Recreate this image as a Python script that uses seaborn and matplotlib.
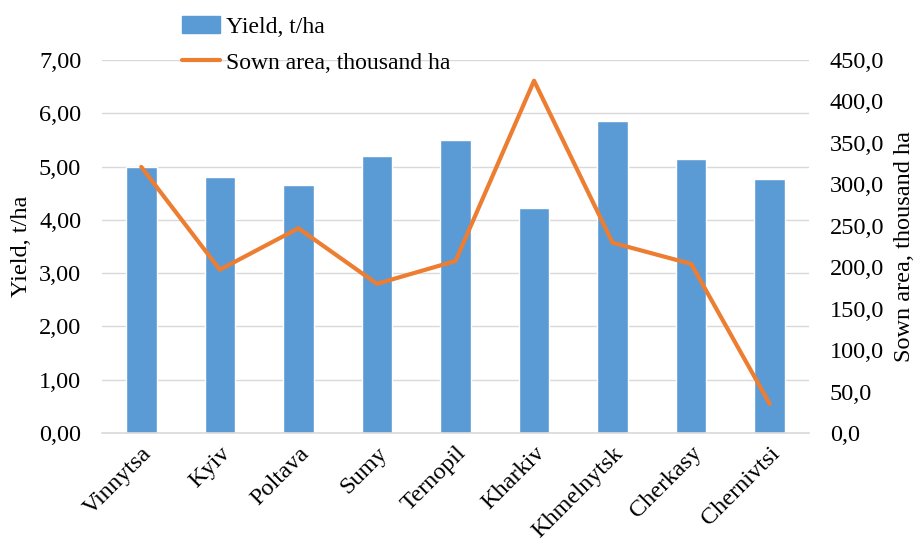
import numpy as np
import pandas as pd
import matplotlib
matplotlib.use("Agg")
import matplotlib.pyplot as plt
import seaborn as sns
from matplotlib.patches import Patch
from matplotlib.lines import Line2D
from matplotlib.ticker import FuncFormatter, MultipleLocator

regions = ["Vinnytsa", "Kyiv", "Poltava", "Sumy", "Ternopil", "Kharkiv",
           "Khmelnytsk", "Cherkasy", "Chernivtsi"]
yield_t_ha = [5.00, 4.81, 4.66, 5.20, 5.50, 4.23, 5.85, 5.15, 4.76]
sown_area = [321.0, 197.0, 247.0, 180.0, 207.5, 425.0, 229.5, 204.0, 35.0]

BAR = "#5b9bd5"
LINE = "#ed7d31"
GRID = "#d9d9d9"
FS = 17.5

sns.set_theme(style="white")
plt.rcParams["font.family"] = ["Liberation Serif", "DejaVu Serif"]
plt.rcParams["text.color"] = "black"
plt.rcParams["axes.labelcolor"] = "black"

fig = plt.figure(figsize=(9.14, 5.43), dpi=100)
ax = fig.add_axes([102/914, 1-433/543, (809-102)/914, (433-60)/543])

df = pd.DataFrame({"region": regions, "yield": yield_t_ha, "area": sown_area})
sns.barplot(data=df, x="region", y="yield", color=BAR, width=0.39,
            saturation=1, ax=ax, zorder=2)

ax.set_ylim(0, 7)
ax.yaxis.set_major_locator(MultipleLocator(1))
ax.yaxis.set_major_formatter(FuncFormatter(lambda v, p: f"{v:.2f}".replace(".", ",")))
ax.grid(axis="y", color=GRID, linewidth=1, zorder=0)
ax.set_axisbelow(True)
for s in ["top", "right", "left"]:
    ax.spines[s].set_visible(False)
ax.spines["bottom"].set_color(GRID)
ax.spines["bottom"].set_linewidth(1.2)
ax.tick_params(axis="both", length=0, labelsize=FS, colors="black")
ax.tick_params(axis="y", pad=15)
ax.tick_params(axis="x", pad=7)
ax.set_xlabel("")
ax.set_ylabel("Yield, t/ha", fontsize=FS, labelpad=5)
ax.set_xlim(-0.5, len(regions) - 0.5)
plt.setp(ax.get_xticklabels(), rotation=45, ha="right", va="top",
         rotation_mode="anchor")

ax2 = ax.twinx()
sns.lineplot(x=np.arange(len(regions)), y=df["area"], color=LINE, linewidth=3.0,
             ax=ax2, zorder=3)
ax2.set_ylim(0, 450)
ax2.yaxis.set_major_locator(MultipleLocator(50))
ax2.yaxis.set_major_formatter(FuncFormatter(lambda v, p: f"{v:.1f}".replace(".", ",")))
for s in ["top", "right", "left", "bottom"]:
    ax2.spines[s].set_visible(False)
ax2.tick_params(axis="y", length=0, labelsize=FS, colors="black", pad=15)
ax2.set_ylabel("Sown area, thousand ha", fontsize=FS, labelpad=7)
ax2.set_xlim(-0.5, len(regions) - 0.5)

handles = [Patch(facecolor=BAR, edgecolor=BAR),
           Line2D([0], [0], color=LINE, linewidth=3.0)]
labels = ["Yield, t/ha", "Sown area, thousand ha"]
fig.legend(handles, labels, loc="upper left", bbox_to_anchor=(182/914, 1 - 16/543),
           frameon=False, fontsize=17, handlelength=1.6, handletextpad=0.25,
           labelspacing=0.62, borderpad=0, borderaxespad=0)

fig.savefig("out.png", dpi=100)
